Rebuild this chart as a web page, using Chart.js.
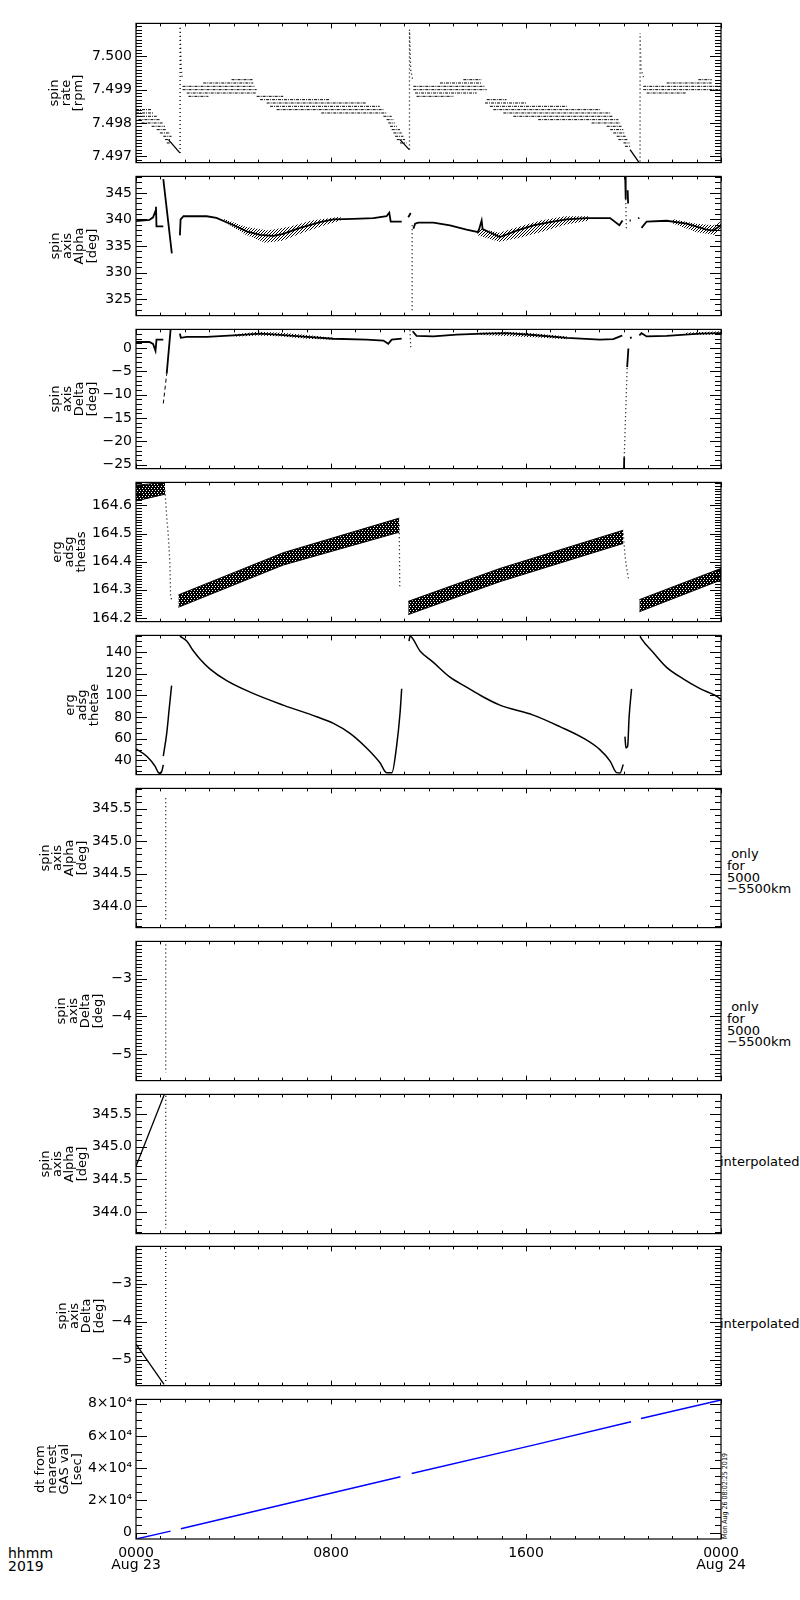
<!DOCTYPE html>
<html>
<head>
<meta charset="utf-8">
<script src="https://cdn.jsdelivr.net/npm/chart.js@4.4.1/dist/chart.umd.min.js"></script>
<style>
body { margin: 0; background: #fff; width: 800px; height: 1600px; position: relative; overflow: hidden;
       font-family: "DejaVu Sans", sans-serif; color: #000; }
canvas { position: absolute; left: 0; }
.note { position: absolute; font-size: 13px; line-height: 11.8px; white-space: nowrap; }
.stamp { position: absolute; font-family: "DejaVu Sans Condensed", "DejaVu Sans", sans-serif; font-size: 7px;
         line-height: 7px; white-space: nowrap; transform: rotate(-90deg); transform-origin: left top; }
</style>
</head>
<body>
<div class="note" style="left:727px;top:848px">&nbsp;only<br>for<br>5000<br>&minus;5500km</div>
<div class="note" style="left:727px;top:1001px">&nbsp;only<br>for<br>5000<br>&minus;5500km</div>
<div class="note" style="left:720px;top:1156px">interpolated</div>
<div class="note" style="left:720px;top:1318px">interpolated</div>
<div class="note" style="left:8px;top:1547px;font-size:14px;line-height:12.6px">hhmm<br>2019</div>
<div class="stamp" style="left:722px;top:1539px">Mon Aug 26 08:02:25 2019</div>

<script>
// ---- time axis (hours of Aug 23) ----
const hourMarks = [0, 8, 16, 24];
const hourLabels = [['0000', 'Aug 23'], '0800', '1600', ['0000', 'Aug 24']];

// ---- panel 1: spin rate [rpm] ----
const rateTicks = [7.497, 7.498, 7.499, 7.500];
// quantised readings: [from hour, to hour, rpm]
const rateSteps = [
  [0.00, 0.64, 7.4984], [0.00, 0.71, 7.4983], [0.00, 0.85, 7.4982], [0.10, 0.98, 7.4981],
  [0.23, 1.12, 7.4980], [0.64, 1.19, 7.4979], [0.85, 1.26, 7.4978], [0.98, 1.40, 7.4977],
  [1.12, 1.46, 7.4976], [1.19, 1.40, 7.4975], [1.26, 1.40, 7.4974],
  [3.92, 4.81, 7.4993], [2.76, 4.81, 7.4992], [1.91, 4.88, 7.4991], [1.91, 4.95, 7.4990],
  [2.08, 4.95, 7.4989], [2.15, 2.97, 7.4988], [4.95, 6.04, 7.4988], [5.09, 7.96, 7.4987],
  [5.36, 9.46, 7.4986], [5.50, 10.00, 7.4985], [5.77, 10.15, 7.4984], [7.60, 10.28, 7.4983],
  [10.15, 10.49, 7.4982], [10.28, 10.56, 7.4981], [10.35, 10.63, 7.4980], [10.42, 10.70, 7.4979],
  [10.49, 10.83, 7.4978], [10.56, 10.90, 7.4977], [10.63, 10.97, 7.4976], [10.70, 11.04, 7.4975],
  [10.83, 11.10, 7.4974],
  [13.43, 14.18, 7.4993], [12.47, 14.18, 7.4992], [11.38, 14.32, 7.4991], [11.38, 14.39, 7.4990],
  [11.45, 13.98, 7.4989], [11.51, 13.02, 7.4988], [14.39, 15.20, 7.4987], [14.32, 16.03, 7.4986],
  [14.52, 17.67, 7.4985], [14.66, 19.04, 7.4984], [15.07, 19.45, 7.4983], [15.48, 19.58, 7.4982],
  [16.50, 19.79, 7.4981], [18.69, 19.86, 7.4980], [19.31, 19.92, 7.4979], [19.45, 19.99, 7.4978],
  [19.58, 20.06, 7.4977], [19.72, 20.13, 7.4976], [19.79, 20.20, 7.4975], [20.00, 20.27, 7.4974],
  [20.06, 20.27, 7.4973],
  [23.07, 23.62, 7.4993], [21.77, 23.62, 7.4992], [20.81, 24.00, 7.4991], [20.81, 24.00, 7.4990],
  [20.95, 22.59, 7.4989]
];
const rateFalls = [
  [[1.33, 7.4975], [1.80, 7.4971]],
  [[10.83, 7.4975], [11.21, 7.4972]],
  [[20.27, 7.4972], [20.65, 7.4968]]
];
const rateJumps = [
  [[1.81, 7.4971], [1.81, 7.5009], [1.85, 7.4997], [1.90, 7.4993]],
  [[11.22, 7.4972], [11.22, 7.5008], [11.27, 7.4996], [11.35, 7.4993]],
  [[20.68, 7.4966], [20.68, 7.5007], [20.72, 7.4996], [20.85, 7.4993]]
];

// ---- panel 2: spin axis Alpha [deg] ----
const alphaTicks = [325, 330, 335, 340, 345];
const alphaLine = [
  [[0, 339.7], [0.55, 339.9], [0.7, 340.4], [0.8, 341.6], [0.82, 342.4], [0.84, 338.7], [1.12, 338.7]],
  [[1.12, 347.6], [1.47, 333.6]],
  [[1.80, 337.0], [1.83, 340.0], [1.95, 340.6], [2.9, 340.6], [3.3, 340.3], [4.0, 338.9], [4.54, 337.75],
   [5.09, 337.1], [5.63, 336.9], [6.04, 337.3], [6.73, 338.4], [7.55, 339.5], [8.1, 340.0], [8.92, 340.1],
   [9.74, 340.25], [10.28, 340.6], [10.39, 341.25], [10.45, 339.6], [10.9, 339.6]],
  [[11.17, 340.4], [11.27, 341.2]],
  [[11.38, 338.25], [11.45, 339.2], [11.58, 339.4], [12.2, 339.4], [12.88, 338.9], [13.56, 338.1],
   [14.04, 337.6], [14.18, 339.8], [14.22, 338.2], [14.93, 336.7], [15.62, 337.9], [16.3, 338.9],
   [16.98, 339.5], [17.67, 340.0], [18.49, 340.25], [19.45, 340.25], [19.83, 338.9], [19.96, 339.8]],
  [[20.07, 348.2], [20.09, 343.8]],
  [[20.17, 345.5], [20.19, 343.0]],
  [[20.25, 339.8], [20.30, 339.8]],
  [[20.60, 340.2], [20.65, 340.3]],
  [[20.74, 338.4], [20.95, 339.6], [21.77, 339.75], [22.59, 339.2], [23.41, 338.1], [23.68, 337.9], [24, 338.9]]
];
const alphaDots = [
  [[11.33, 338.9], [11.33, 322.6]],
  [[20.09, 343.8], [20.12, 338.0]]
];
const alphaNoiseHi = [
  [[3.6, 340.1], [4.5, 338.6], [5.4, 337.9], [6.3, 338.6], [7.2, 339.8], [8.4, 340.5]],
  [[14.0, 338.4], [14.9, 337.5], [15.7, 338.6], [16.6, 339.8], [17.6, 340.6], [18.6, 340.6]],
  [[22.0, 340.1], [23.0, 339.2], [23.7, 338.9], [24, 339.6]]
];
const alphaNoiseLo = [
  [[3.6, 339.6], [4.5, 337.1], [5.3, 335.6], [6.0, 336.0], [6.9, 337.6], [7.8, 339.0], [8.4, 339.8]],
  [[14.0, 337.0], [14.9, 335.8], [15.7, 336.5], [16.6, 337.6], [17.6, 339.0], [18.6, 339.8]],
  [[22.0, 339.3], [23.0, 337.6], [23.7, 337.1], [24, 338.0]]
];

// ---- panel 3: spin axis Delta [deg] ----
const deltaTicks = [-25, -20, -15, -10, -5, 0];
const deltaLine = [
  [[0, 1.3], [0.55, 1.3], [0.7, 0.9], [0.8, -0.6], [0.84, 1.8], [1.12, 1.8]],
  [[1.26, -5.5], [1.42, 4.0]],
  [[1.80, 3.1], [1.84, 2.2], [2.08, 2.4], [2.9, 2.4], [4.0, 2.7], [5.09, 3.1], [5.77, 2.9], [6.73, 2.5],
   [8.1, 2.0], [9.46, 1.8], [10.15, 1.6], [10.35, 0.9], [10.49, 1.8], [10.9, 2.0]],
  [[11.35, 3.6], [11.51, 2.6], [12.2, 2.5], [13.15, 2.9], [14.25, 3.1], [15.2, 3.2], [16.3, 2.8],
   [17.67, 2.2], [19.03, 1.8], [19.58, 1.9], [19.86, 2.5], [19.95, 2.7]],
  [[20.02, -26.0], [20.03, -23.4]],
  [[20.15, -4.1], [20.20, -0.1]],
  [[20.27, 2.2], [20.30, 2.4]],
  [[20.65, 2.7], [20.74, 3.2], [20.95, 2.5], [21.77, 2.6], [23.14, 3.1], [24, 3.2]]
];
const deltaDashes = [[[1.12, -11.9], [1.26, -5.5]]];
const deltaDots = [
  [[11.24, 3.8], [11.27, 0.2]],
  [[20.03, -23.4], [20.15, -4.1]]
];
const deltaNoiseHi = [
  [[4.0, 2.9], [5.0, 3.5], [6.0, 3.3], [7.0, 2.8], [8.1, 2.2]],
  [[14.1, 3.3], [15.2, 3.5], [16.3, 3.2], [17.7, 2.5]],
  [[22.5, 3.3], [24, 3.6]]
];
const deltaNoiseLo = [
  [[4.0, 2.4], [5.0, 2.7], [6.0, 2.5], [7.0, 2.0], [8.1, 1.8]],
  [[14.1, 2.8], [15.2, 2.6], [16.3, 2.3], [17.7, 1.9]],
  [[22.5, 2.8], [24, 2.9]]
];

// ---- panel 4: erg adsg thetas ----
const thetasTicks = [164.2, 164.3, 164.4, 164.5, 164.6];
const thetasHi = [
  [[0, 164.672], [1.19, 164.682]],
  [[1.74, 164.282], [6.04, 164.432], [10.8, 164.555]],
  [[11.17, 164.259], [14.93, 164.376], [19.99, 164.512]],
  [[20.65, 164.265], [24, 164.376]]
];
const thetasLo = [
  [[0, 164.616], [1.19, 164.640]],
  [[1.74, 164.238], [6.04, 164.388], [10.8, 164.505]],
  [[11.17, 164.212], [14.93, 164.329], [19.99, 164.465]],
  [[20.65, 164.222], [24, 164.335]]
];
const thetasDrops = [
  [[1.19, 164.653], [1.26, 164.559], [1.33, 164.488], [1.39, 164.394], [1.42, 164.276], [1.46, 164.265]],
  [[10.80, 164.530], [10.82, 164.312]],
  [[19.99, 164.500], [20.06, 164.424], [20.10, 164.394], [20.20, 164.341]]
];

// ---- panel 5: erg adsg thetae ----
const thetaeTicks = [40, 60, 80, 100, 120, 140];
const thetaeLine = [
  [[0, 50.6], [0.44, 43.9], [0.78, 34.8], [0.92, 28.8], [1.01, 28.2], [1.06, 30], [1.12, 36]],
  [[1.12, 44], [1.26, 65], [1.37, 89.4], [1.46, 109]],
  [[1.80, 154.5], [2.08, 150], [2.35, 141], [2.63, 133.3], [3.04, 124.2], [3.72, 113.6], [4.68, 103],
   [6.04, 91], [7.41, 80.3], [8.1, 74.2], [8.78, 65], [9.46, 51.5], [10.01, 37.9], [10.28, 28.8],
   [10.5, 28.8], [10.69, 53], [10.83, 83], [10.9, 106]],
  [[11.20, 150], [11.24, 154.5], [11.65, 140.9], [12.2, 130.3], [12.88, 116.7], [13.56, 107.6],
   [14.25, 98.5], [14.93, 91], [16.3, 81.8], [17.39, 71.2], [18.35, 60.6], [19.03, 50], [19.45, 39.4],
   [19.72, 28.8], [19.86, 28.5], [19.99, 36.4]],
  [[20.06, 62], [20.10, 51.5], [20.17, 53], [20.23, 80], [20.33, 106]],
  [[20.68, 154.5], [20.74, 152], [21.22, 139.4], [21.77, 125.8], [22.45, 115.2], [23.14, 106.1],
   [23.96, 97], [24, 96]]
];

// ---- panels 6-9: 5000-5500 km window and interpolated values ----
const alphaWinTicks = [344.0, 344.5, 345.0, 345.5];
const alphaWinMark = [[[1.22, 345.66], [1.22, 343.77]]];
const deltaWinTicks = [-5, -4, -3];
const deltaWinMark = [[[1.22, -2.09], [1.22, -5.50]]];
const alphaIntLine = [[[0, 344.70], [1.16, 345.80]]];
const alphaIntMark = [[[1.22, 345.78], [1.22, 343.75]]];
const deltaIntLine = [[[0, -4.59], [1.15, -5.65]]];
const deltaIntMark = [[[1.22, -2.06], [1.22, -5.62]]];

// ---- panel 10: dt from nearest GAS val [sec] ----
const dtTicks = [0, 20000, 40000, 60000, 80000];
const dtLabels = ['0', '2\u00d710\u2074', '4\u00d710\u2074', '6\u00d710\u2074', '8\u00d710\u2074'];
const dtLine = [
  [[0, -3900], [1.42, 1000]],
  [[1.84, 2450], [10.85, 34700]],
  [[11.31, 36700], [16.3, 54300], [20.31, 68800]],
  [[20.72, 70800], [24, 82300]]
];

// ---------------------------------------------------------------
Chart.defaults.font.family = "'DejaVu Sans', sans-serif";
Chart.defaults.color = '#000';
Chart.defaults.animation = false;

const PANEL_H = 140, PAD = 12;
const panelTops = [23, 176, 329, 482, 635, 788, 941, 1094, 1246, 1399];

function pts(lines) {
  const out = [];
  lines.forEach((line, i) => {
    if (i > 0) out.push({ x: line[0][0], y: null });
    line.forEach(p => out.push({ x: p[0], y: p[1] }));
  });
  return out;
}
function pattern(rows) {
  const c = document.createElement('canvas');
  c.width = rows[0].length; c.height = rows.length;
  const g = c.getContext('2d');
  g.fillStyle = '#000';
  rows.forEach((r, y) => [...r].forEach((ch, x) => { if (ch === '#') g.fillRect(x, y, 1, 1); }));
  return g.createPattern(c, 'repeat');
}
const hatch = pattern(['##.', '###', '#.#', '###']);
const speckle = pattern(['#..', '..#', '.#.']);

const solid = (lines, w, color) => ({ data: pts(lines), borderColor: color || '#000', borderWidth: w || 1.3 });
const dotted = lines => ({ data: pts(lines), borderColor: '#000', borderWidth: 1.3, borderDash: [1, 3] });
const dashed = (lines, dash) => ({ data: pts(lines), borderColor: '#000', borderWidth: 1, borderDash: dash });
function band(hi, lo, fillStyle, edge) {
  const out = [];
  hi.forEach((h, i) => {
    out.push({ data: pts([h]), borderColor: '#000', borderWidth: edge });
    out.push({ data: pts([lo[i]]), borderColor: '#000', borderWidth: edge, fill: '-1', backgroundColor: fillStyle });
  });
  return out;
}
const signed = v => String(v).replace('-', '\u2212');

// IDL style box: ticks pointing inward on all four sides
const idlFrame = {
  id: 'idlFrame',
  afterDatasetsDraw(chart, args, o) {
    const { ctx, chartArea: a, scales: { x, y } } = chart;
    ctx.save();
    ctx.strokeStyle = '#000';
    ctx.lineWidth = 1.2;
    ctx.strokeRect(a.left, a.top, a.right - a.left, a.bottom - a.top);
    ctx.lineWidth = 1;
    ctx.beginPath();
    for (let h = 0; h <= 24; h++) {
      const px = Math.round(x.getPixelForValue(h)) + 0.5;
      const len = hourMarks.includes(h) ? 5 : 3;
      ctx.moveTo(px, a.bottom); ctx.lineTo(px, a.bottom - len);
      ctx.moveTo(px, a.top); ctx.lineTo(px, a.top + len);
    }
    const k0 = Math.ceil(y.min / o.minor - 1e-6), k1 = Math.floor(y.max / o.minor + 1e-6);
    for (let k = k0; k <= k1; k++) {
      const v = k * o.minor;
      const r = v / o.major;
      const len = Math.abs(r - Math.round(r)) < 1e-6 ? 11 : 6;
      const py = Math.round(y.getPixelForValue(v)) + 0.5;
      ctx.moveTo(a.left, py); ctx.lineTo(a.left + len, py);
      ctx.moveTo(a.right, py); ctx.lineTo(a.right - len, py);
    }
    ctx.stroke();
    ctx.restore();
  }
};

const thetaeSet = solid(thetaeLine, 1.5);
thetaeSet.cubicInterpolationMode = 'monotone';

const specs = [
  { title: ['spin', 'rate', '[rpm]'], tpad: 48, min: 7.49681, max: 7.50099, ticks: rateTicks,
    major: 0.001, minor: 0.0001, fmt: v => v.toFixed(3),
    sets: [dashed(rateSteps.map(s => [[s[0], s[2]], [s[1], s[2]]]), [3, 1, 1, 1]), solid(rateFalls), dotted(rateJumps)] },
  { title: ['spin', 'axis', 'Alpha', '[deg]'], tpad: 49, min: 321.9, max: 348.1, ticks: alphaTicks,
    major: 5, minor: 1, fmt: v => String(v),
    sets: [...band(alphaNoiseHi, alphaNoiseLo, speckle, 0), solid(alphaLine, 1.8), dotted(alphaDots)] },
  { title: ['spin', 'axis', 'Delta', '[deg]'], tpad: 49, min: -25.85, max: 4.0, ticks: deltaTicks,
    major: 5, minor: 1, fmt: signed,
    sets: [...band(deltaNoiseHi, deltaNoiseLo, speckle, 0), solid(deltaLine, 1.8), dashed(deltaDashes, [4, 3]), dotted(deltaDots)] },
  { title: ['erg', 'adsg', 'thetas'], tpad: 51, min: 164.187, max: 164.682, ticks: thetasTicks,
    major: 0.1, minor: 0.01, fmt: v => v.toFixed(1),
    sets: [...band(thetasHi, thetasLo, hatch, 1), dotted(thetasDrops)] },
  { title: ['erg', 'adsg', 'thetae'], tpad: 64, min: 27, max: 155.2, ticks: thetaeTicks,
    major: 20, minor: 5, fmt: v => String(v),
    sets: [thetaeSet] },
  { title: ['spin', 'axis', 'Alpha', '[deg]'], tpad: 39, min: 343.67, max: 345.81, ticks: alphaWinTicks,
    major: 0.5, minor: 0.1, fmt: v => v.toFixed(1),
    sets: [dotted(alphaWinMark)] },
  { title: ['spin', 'axis', 'Delta', '[deg]'], tpad: 55, min: -5.71, max: -2.01, ticks: deltaWinTicks,
    major: 1, minor: 0.1, fmt: signed,
    sets: [dotted(deltaWinMark)] },
  { title: ['spin', 'axis', 'Alpha', '[deg]'], tpad: 39, min: 343.67, max: 345.80, ticks: alphaWinTicks,
    major: 0.5, minor: 0.1, fmt: v => v.toFixed(1),
    sets: [solid(alphaIntLine), dotted(alphaIntMark)] },
  { title: ['spin', 'axis', 'Delta', '[deg]'], tpad: 56, min: -5.68, max: -2.02, ticks: deltaWinTicks,
    major: 1, minor: 0.1, fmt: signed,
    sets: [solid(deltaIntLine), dotted(deltaIntMark)] },
  { title: ['dt from', 'nearest', 'GAS val', '[sec]'], tpad: 34, min: -3900, max: 82660, ticks: dtTicks,
    major: 20000, minor: 5000, fmt: (v, i) => dtLabels[i], showX: true,
    sets: [solid(dtLine, 1.4, '#0000ff')] }
];

specs.forEach((sp, i) => {
  const cv = document.createElement('canvas');
  const h = sp.showX ? PAD + PANEL_H + 45 : PAD * 2 + PANEL_H;
  cv.width = 800; cv.height = h;
  cv.style.top = (panelTops[i] - PAD) + 'px';
  cv.style.width = '800px'; cv.style.height = h + 'px';
  document.body.appendChild(cv);

  sp.sets.forEach(d => { d.pointRadius = 0; d.tension = d.tension || 0; d.spanGaps = false; if (!d.fill) d.fill = false; });

  new Chart(cv, {
    type: 'line',
    data: { datasets: sp.sets },
    options: {
      responsive: false,
      maintainAspectRatio: false,
      events: [],
      layout: { padding: { left: 0, right: 79, top: PAD, bottom: sp.showX ? 5 : PAD } },
      plugins: {
        legend: { display: false },
        tooltip: { enabled: false },
        idlFrame: { major: sp.major, minor: sp.minor }
      },
      scales: {
        x: {
          type: 'linear', min: 0, max: 24, display: !!sp.showX,
          grid: { display: false, drawTicks: false }, border: { display: false },
          afterBuildTicks: s => { s.ticks = hourMarks.map(v => ({ value: v })); },
          afterFit: s => { s.height = sp.showX ? 40 : 0; },
          ticks: { autoSkip: false, maxRotation: 0, padding: 7.7, color: '#000',
                   font: { size: 14, lineHeight: 0.9 }, callback: (v, k) => hourLabels[k] }
        },
        y: {
          type: 'linear', min: sp.min, max: sp.max,
          grid: { display: false, drawTicks: false }, border: { display: false },
          afterBuildTicks: s => { s.ticks = sp.ticks.map(v => ({ value: v })); },
          afterFit: s => { s.width = 136; },
          ticks: { autoSkip: false, padding: 4, color: '#000', font: { size: 14 },
                   callback: (v, k) => sp.fmt(v, k) },
          title: { display: true, text: sp.title, color: '#000', align: 'center',
                   font: { size: 13, lineHeight: 0.95 }, padding: { top: sp.tpad, bottom: 0 } }
        }
      }
    },
    plugins: [idlFrame]
  });
});
</script>
</body>
</html>
